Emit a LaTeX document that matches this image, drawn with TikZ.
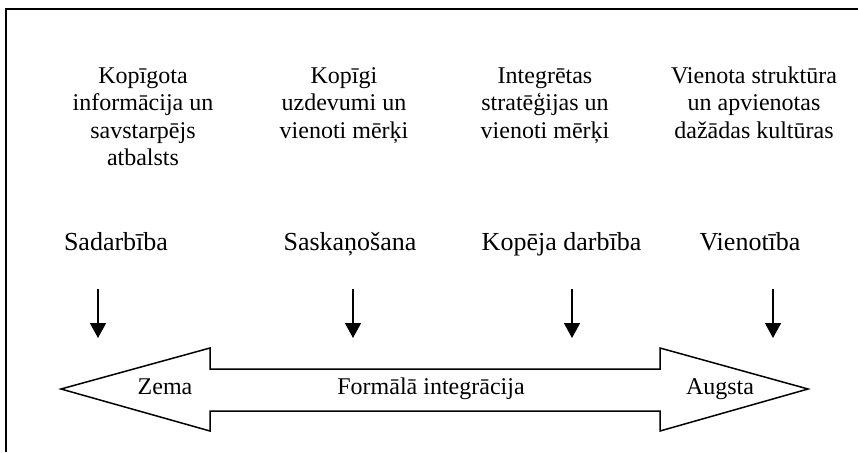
\documentclass[tikz,border=0pt]{standalone}
\usepackage{fontspec}
\setmainfont{Liberation Serif}
\usetikzlibrary{arrows.meta}
\tikzset{
  toptext/.style={align=center, anchor=north, inner sep=0pt, font=\fontsize{24}{27.5}\selectfont},
  stagelabel/.style={anchor=base, inner sep=0pt, font=\fontsize{26}{30}\selectfont},
  arrowlabel/.style={anchor=base, inner sep=0pt, font=\fontsize{24}{28}\selectfont},
  downarrow/.style={line width=1.5pt, -{Triangle[width=16pt,length=15pt]}},
  bigarrow/.style={line width=1.5pt, line join=miter},
  frameline/.style={line width=2.5pt}
}
\begin{document}
\begin{tikzpicture}[x=1pt,y=-1pt]
\useasboundingbox (0,0) rectangle (858,452);
% frame (partial)
\draw[frameline] (6,452) -- (6,9) -- (858,9);
% top descriptions (first baseline at y=83; strut height 19.25)
\node[toptext] (d1) at (143,63.75) {\strut Kopīgota\\informācija un\\savstarpējs\\atbalsts};
\node[toptext] (d2) at (344,63.75) {\strut Kopīgi\\uzdevumi un\\vienoti mērķi};
\node[toptext] (d3) at (545,63.75) {\strut Integrētas\\stratēģijas un\\vienoti mērķi};
\node[toptext] (d4) at (754,63.75) {\strut Vienota struktūra\\un apvienotas\\dažādas kultūras};
% stage labels
\node[stagelabel] (s1) at (116,250) {Sadarbība};
\node[stagelabel] (s2) at (350,250) {Saskaņošana};
\node[stagelabel] (s3) at (561.5,250) {Kopēja darbība};
\node[stagelabel] (s4) at (750,250) {Vienotība};
% down arrows
\coordinate (a1s) at (98,289);  \coordinate (a1e) at (98,338);
\coordinate (a2s) at (353,289); \coordinate (a2e) at (353,338);
\coordinate (a3s) at (572,289); \coordinate (a3e) at (572,338);
\coordinate (a4s) at (773,289); \coordinate (a4e) at (773,338);
\draw[downarrow] (a1s) -- (a1e);
\draw[downarrow] (a2s) -- (a2e);
\draw[downarrow] (a3s) -- (a3e);
\draw[downarrow] (a4s) -- (a4e);
% big double arrow
\draw[bigarrow] (61,389) -- (210,348) -- (210,369) -- (660,369) -- (660,348) -- (808,389)
  -- (660,431) -- (660,411) -- (210,411) -- (210,431) -- cycle;
\node[arrowlabel] (low) at (165,394) {Zema};
\node[arrowlabel] (mid) at (431,394) {Formālā integrācija};
\node[arrowlabel] (high) at (720,394) {Augsta};
\end{tikzpicture}
\end{document}
